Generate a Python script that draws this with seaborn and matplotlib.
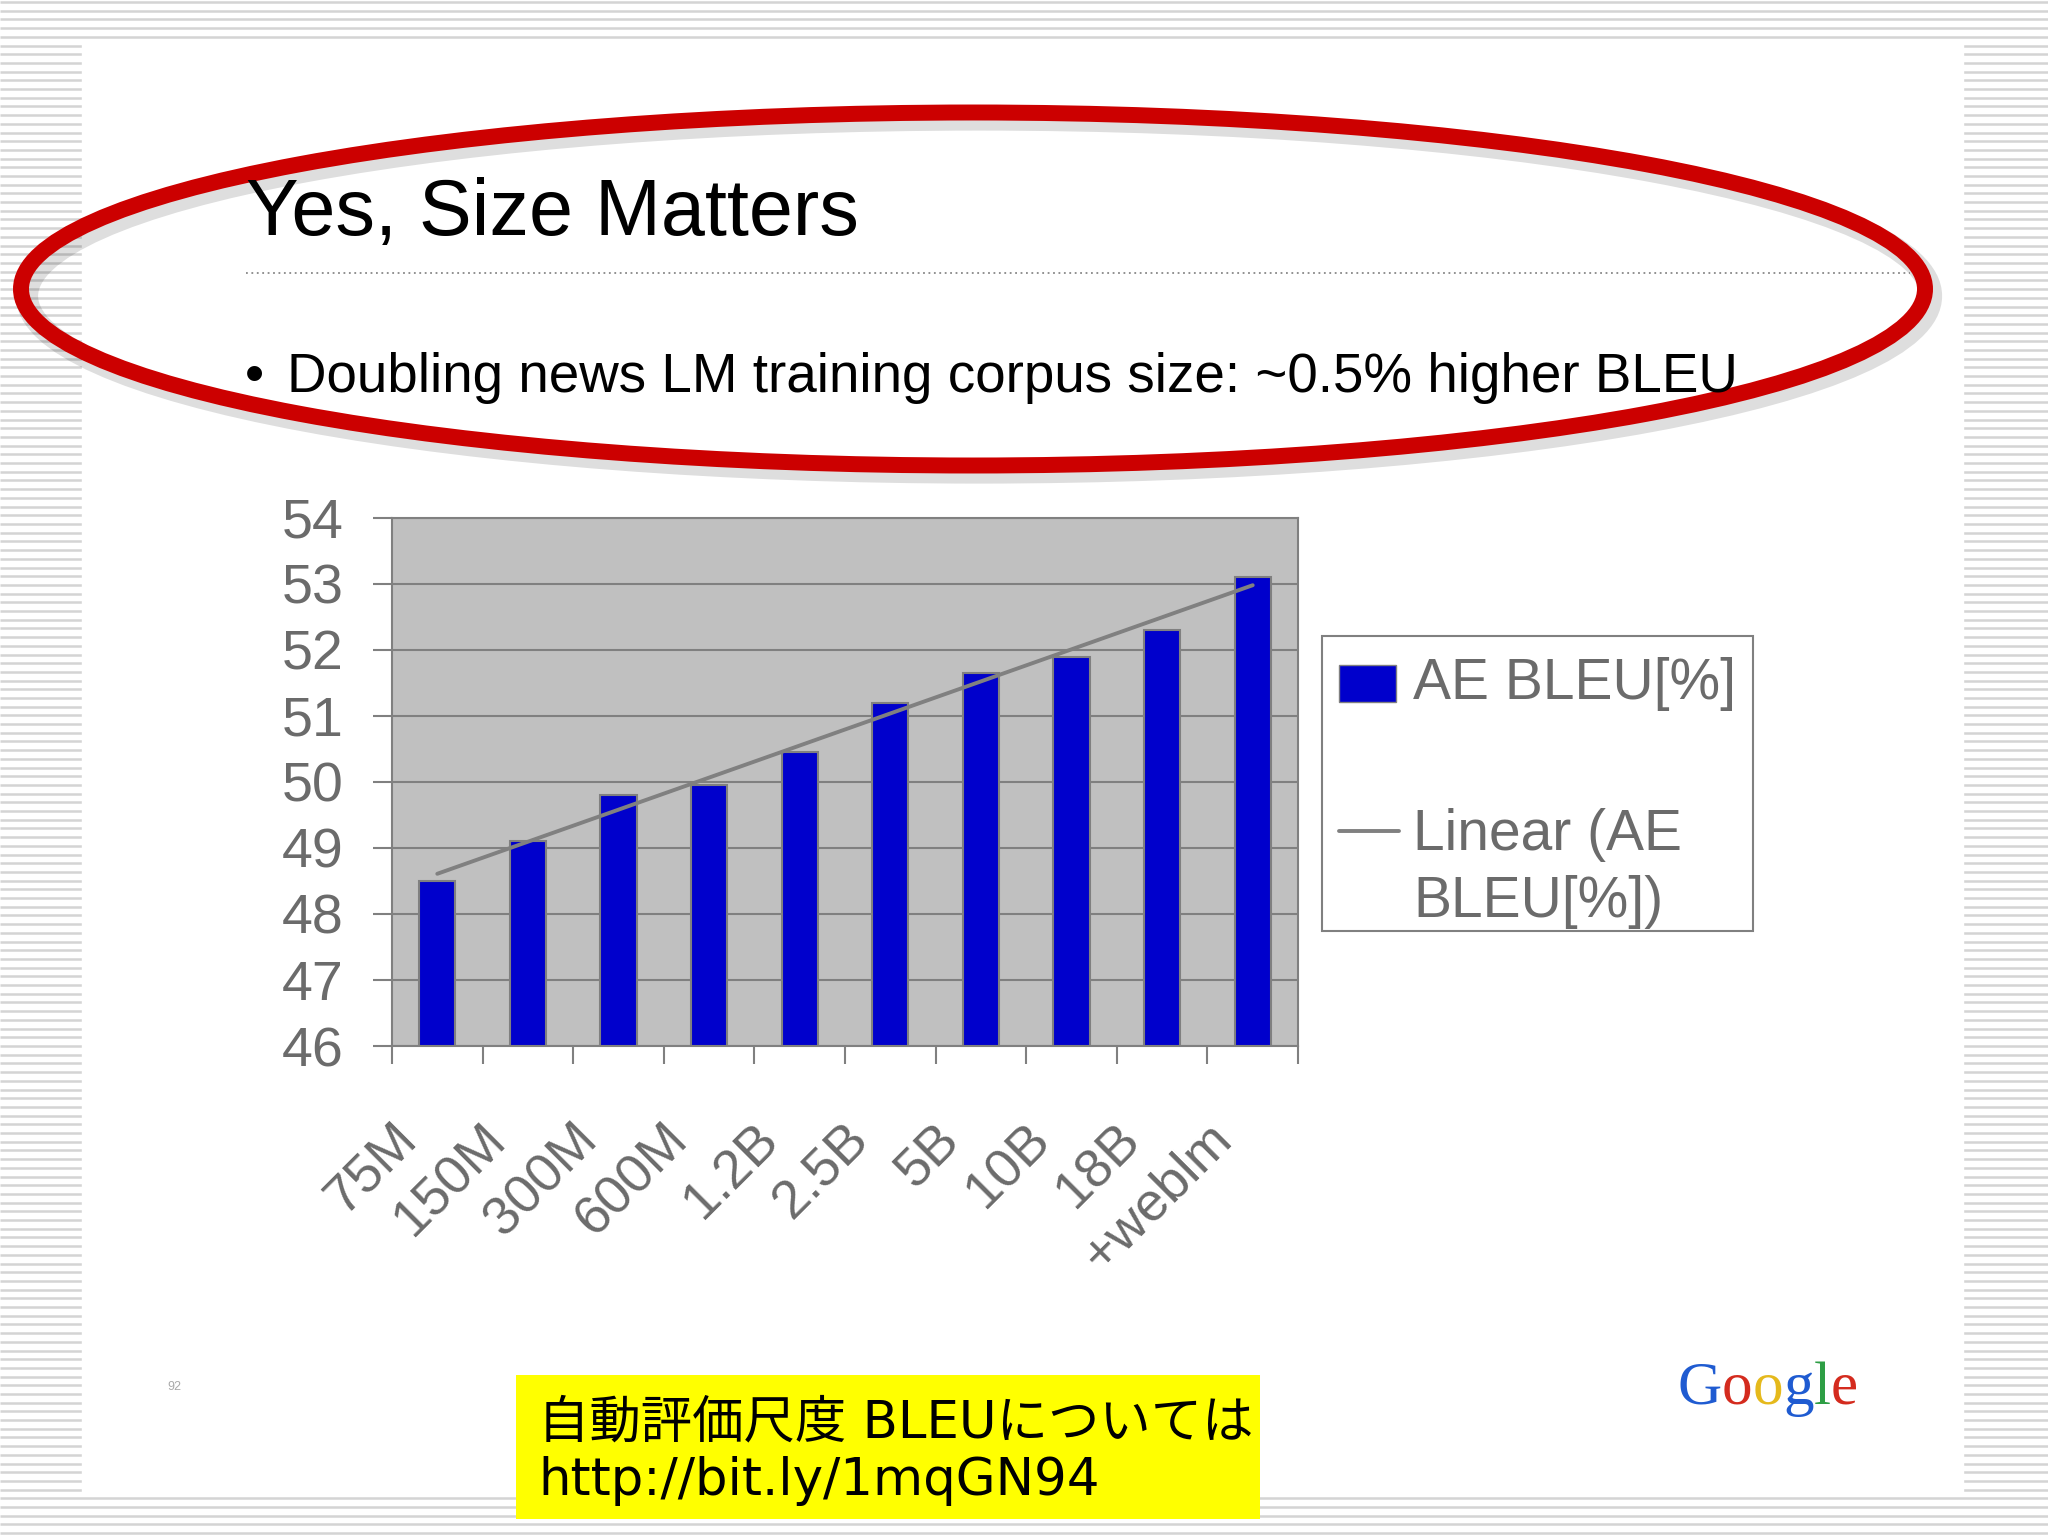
import matplotlib
matplotlib.use("Agg")
import matplotlib.pyplot as plt
from matplotlib.patches import Ellipse, Rectangle
from matplotlib.transforms import ScaledTranslation
import seaborn as sns
import numpy as np
import pandas as pd

# data
corpus_sizes = ["75M", "150M", "300M", "600M", "1.2B", "2.5B", "5B", "10B", "18B", "+weblm"]
bleu = [48.5, 49.1, 49.8, 49.95, 50.45, 51.2, 51.65, 51.9, 52.3, 53.1]
y_ticks = [46, 47, 48, 49, 50, 51, 52, 53, 54]

title = "Yes, Size Matters"
bullet = "Doubling news LM training corpus size: ~0.5% higher BLEU"
legend_labels = ["AE BLEU[%]", "Linear (AE\nBLEU[%])"]
note = "自動評価尺度 BLEUについては\nhttp://bit.ly/1mqGN94"
page_no = "92"
logo_letters = list("Google")
logo_colors = ["#1f5bd1", "#d42b1e", "#e5b91c", "#1f5bd1", "#2e9e45", "#d42b1e"]

sns.set_style("white")
plt.rcParams["font.family"] = ["Liberation Sans", "DejaVu Sans"]

BAR = "#0000cc"
GRAY = "#808080"
TXT = "#6b6b6b"

fig = plt.figure(figsize=(20.48, 15.36), dpi=100)

# slide backdrop, pixel coordinates
bg = fig.add_axes([0, 0, 1, 1], zorder=-1)
bg.set_xlim(0, 2048)
bg.set_ylim(1536, 0)
bg.axis("off")
bg.hlines(np.arange(2, 1536, 8.7), 0, 2048, color="#d4d4d4", lw=1.8, zorder=0)
bg.add_patch(Rectangle((82, 40), 1881, 1453, color="white", zorder=1))

# red ellipse with soft shadow
bg.add_patch(Ellipse((979, 296), 1904, 353, fill=False, ec="black", alpha=0.13, lw=16, zorder=2))
bg.add_patch(Ellipse((973, 289), 1904, 353, fill=False, ec="#cc0000", lw=11.5, zorder=3))

bg.text(246, 235, title, fontsize=57, va="baseline", color="black", zorder=4)
bg.plot([246, 1910], [273, 273], color="#888888", lw=1.3, ls=(0, (1, 2)), zorder=4)
bg.text(245, 392, "\u2022", fontsize=39.4, va="baseline", color="black", zorder=4)
bg.text(287, 392, bullet, fontsize=39.4, va="baseline", color="black", zorder=4)

# bar chart
ax = fig.add_axes([0.1914, 0.319, 0.4424, 0.3438])
ax.set_facecolor("#c0c0c0")
df = pd.DataFrame({"size": corpus_sizes, "bleu": bleu})
sns.barplot(data=df, x="size", y="bleu", color=BAR, saturation=1, width=0.4,
            edgecolor=GRAY, linewidth=1.5, ax=ax, zorder=2)

xs = np.arange(len(bleu))
slope, icpt = np.polyfit(xs, bleu, 1)
ax.plot(xs, slope * xs + icpt, color=GRAY, lw=2.8, zorder=3)

ax.set_ylim(46, 54)
ax.set_xlim(-0.5, len(bleu) - 0.5)
ax.set_yticks(y_ticks)
ax.yaxis.grid(True, color=GRAY, lw=1.5)
ax.xaxis.grid(False)
ax.set_axisbelow(True)
for s in ax.spines.values():
    s.set_visible(True)
    s.set_color(GRAY)
    s.set_linewidth(1.5)
ax.tick_params(axis="y", left=True, direction="out", length=14, width=1.5, color=GRAY,
               pad=21, labelsize=40, labelcolor=TXT)
ax.set_xticks(np.arange(-0.5, len(bleu)), minor=True)
ax.tick_params(axis="x", which="minor", bottom=True, direction="out", length=13, width=1.5, color=GRAY)
ax.tick_params(axis="x", which="major", bottom=False, length=0, pad=50, labelsize=39, labelcolor=TXT)
ax.set_xticks(xs)
ax.set_xticklabels(corpus_sizes, rotation=45, ha="right", va="center", rotation_mode="anchor")
shift = ScaledTranslation(-0.29, -0.16, fig.dpi_scale_trans)
for lab in ax.get_xticklabels():
    lab.set_transform(lab.get_transform() + shift)
ax.set_xlabel("")
ax.set_ylabel("")

# legend box, drawn like the Excel one
bg.add_patch(Rectangle((1322, 636), 431, 295, fc="white", ec=GRAY, lw=1.5, zorder=2))
bg.add_patch(Rectangle((1339, 665), 57, 37, fc=BAR, ec=GRAY, lw=1, zorder=3))
bg.text(1413, 684, legend_labels[0], fontsize=41, va="center", color=TXT, zorder=3)
bg.plot([1339, 1399], [831, 831], color=GRAY, lw=2.8, zorder=3)
bg.text(1413, 808, legend_labels[1], fontsize=41, va="top", color=TXT, linespacing=1.3, zorder=3)

# footer
bg.text(174, 1387, page_no, fontsize=9, color="#aaaaaa", ha="center", va="center", zorder=3)
bg.add_patch(Rectangle((516, 1375), 744, 144, fc="#ffff00", ec="none", zorder=3))
bg.text(538, 1452, note, fontsize=37, va="center", color="black", linespacing=1.2,
        family=["DejaVu Sans", "Noto Sans CJK JP"], zorder=4)

renderer = fig.canvas.get_renderer()
x = 1678
for ch, col in zip(logo_letters, logo_colors):
    t = bg.text(x, 1404, ch, fontsize=44, color=col, va="baseline",
                family=["Liberation Serif", "DejaVu Serif"], zorder=4)
    x = t.get_window_extent(renderer).x1

fig.savefig("out.png", dpi=100)
